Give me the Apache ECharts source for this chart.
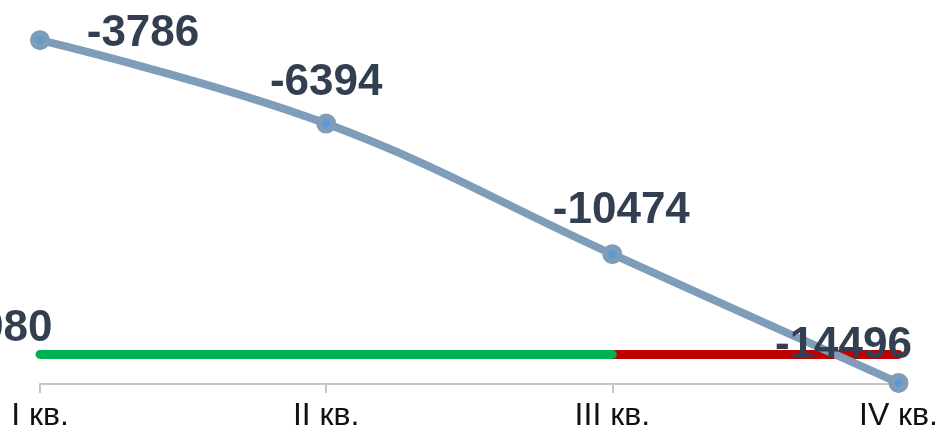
<!DOCTYPE html>
<html><head><meta charset="utf-8">
<script src="https://cdn.jsdelivr.net/npm/echarts@6/dist/echarts.min.js"></script>
<style>html,body{margin:0;padding:0;background:#fff}#c{width:941px;height:432px}</style>
</head><body><div id="c"></div>
<script>
const categories = ['I кв.', 'II кв.', 'III кв.', 'IV кв.'];
const values = [-3786, -6394, -10474, -14496];
const threshold = -13980;
const greenSegment = [threshold, threshold, threshold, null];
const redSegment = [null, null, threshold, threshold];

const labelOffsets = [[103, 31], [0, -4], [9, -6], [-55, 0]];
const labelFont = { fontFamily: 'Liberation Sans, Arial, sans-serif', fontWeight: 'bold', fontSize: 44, color: '#333F50' };

const chart = echarts.init(document.getElementById('c'));
chart.setOption({
  animation: false,
  grid: { left: 40, right: 41, top: 15, bottom: 43, containLabel: false },
  xAxis: {
    type: 'category', data: categories, boundaryGap: false,
    axisLine: { lineStyle: { color: '#C6C6C6', width: 2 } },
    axisTick: { show: true, length: 9, lineStyle: { color: '#C6C6C6', width: 2 } },
    axisLabel: { color: '#111', fontSize: 32, fontFamily: 'Liberation Sans, Arial, sans-serif', margin: 16 }
  },
  yAxis: [
    { type: 'value', min: -14530, max: -3000, show: false },
    { type: 'value', min: -14905, max: -3375, show: false }
  ],
  series: [
    {
      type: 'line', yAxisIndex: 1, z: 2,
      data: greenSegment.map((v, i) => i === 0 ? { value: v, label: { show: true, position: 'top', offset: [-56, 2], ...labelFont } } : (v === null ? '-' : v)),
      symbol: 'circle', symbolSize: 1, showSymbol: true,
      lineStyle: { color: '#00B050', width: 9, cap: 'round' },
      itemStyle: { color: 'rgba(0,0,0,0)' },
      label: { show: false }
    },
    {
      type: 'line', yAxisIndex: 1, z: 1,
      data: redSegment.map(v => v === null ? '-' : v),
      symbol: 'none',
      lineStyle: { color: '#C00000', width: 9, cap: 'round' }
    },
    {
      type: 'line', yAxisIndex: 0, z: 3,
      data: values.map((v, i) => ({ value: v, label: { offset: labelOffsets[i] } })),
      smooth: 0.4,
      symbol: 'circle', symbolSize: 14,
      lineStyle: { color: '#7F9DB9', width: 8 },
      itemStyle: { color: '#5B9BD5', borderColor: '#7F9DB9', borderWidth: 6 },
      label: { show: true, position: 'top', ...labelFont }
    }
  ]
});
</script></body></html>
